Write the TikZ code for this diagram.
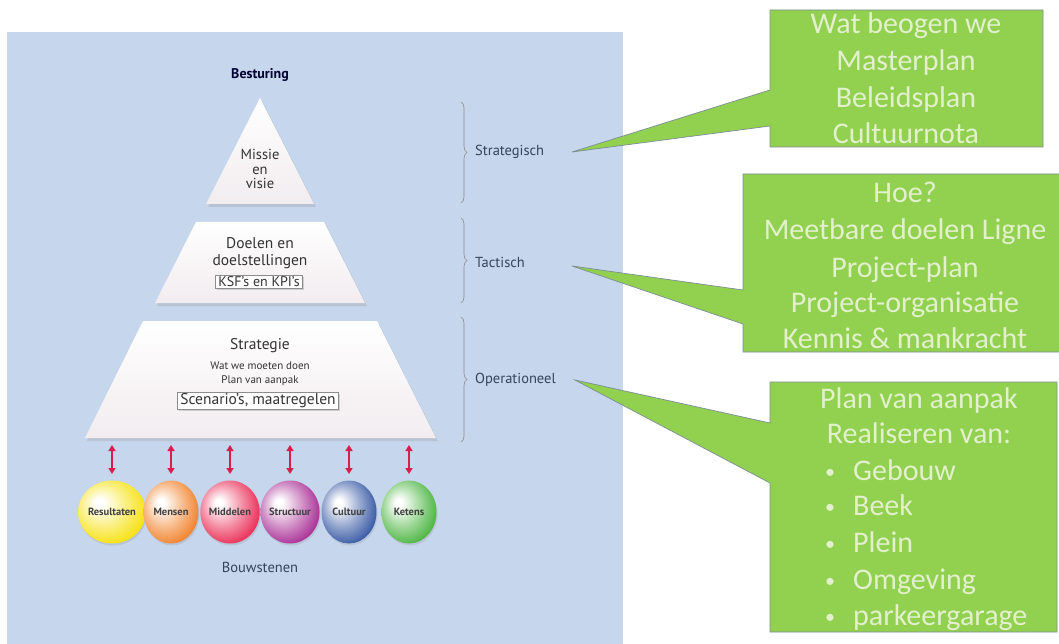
\documentclass[tikz,border=0pt]{standalone}
\usepackage{fontspec}
\setmainfont{PT Sans}
\newfontfamily\calfont{Carlito}
\usetikzlibrary{arrows.meta,decorations.pathreplacing,shapes.geometric,shadows}
\definecolor{panel}{HTML}{C6D6EC}
\definecolor{gfill}{HTML}{92D050}
\definecolor{gtext}{HTML}{E2F0CC}
\definecolor{gline}{HTML}{7D8E96}
\definecolor{ptext}{HTML}{333333}
\definecolor{ltext}{HTML}{36435E}
\definecolor{arr}{HTML}{D81E4E}
\definecolor{pyrbot}{HTML}{F2ECEF}
\definecolor{bcol}{HTML}{F2E012}
\pgfdeclareradialshading[bcol]{egg}{\pgfpoint{-10bp}{8bp}}{color(0bp)=(white); color(3bp)=(white); color(17bp)=(bcol!50!white); color(32bp)=(bcol); color(50bp)=(bcol!82!black)}
\tikzset{
  pyr/.style={top color=white, bottom color=pyrbot, draw=none},
  pyrshadow/.style={fill=black!45, opacity=0.25},
  ptxt/.style={text=ptext, align=center, inner sep=0pt},
  psmall/.style={text=ptext, font=\fontsize{11}{12}\selectfont, inner sep=0pt},
  tagbox/.style={draw=black!45, fill=white, line width=0.6pt, inner xsep=3pt, inner ysep=1.5pt, text=ptext, drop shadow={opacity=0.3, shadow xshift=1.2pt, shadow yshift=-1.2pt}},
  lvl/.style={text=ltext, font=\fontsize{14.5}{16}\selectfont, anchor=west, inner sep=0pt},
  brc/.style={draw=black!45, line width=0.6pt, decorate, decoration={brace, amplitude=6pt}},
  callout/.style={fill=gfill, draw=gline, line width=0.7pt, line join=miter},
  gt/.style={text=gtext, font=\calfont\fontsize{30}{36}\selectfont, anchor=base, inner sep=0pt},
  egg/.style={ellipse, minimum width=55pt, minimum height=63pt, inner sep=0pt, shading=egg, /utils/exec={\colorlet{bcol}{#1}}, font=\bfseries\fontsize{10.5}{11}\selectfont, text=black!75, drop shadow={opacity=0.2, shadow xshift=1pt, shadow yshift=-2pt}},
  dbl/.style={arr, line width=1.8pt, {Triangle[length=6pt,width=7pt]}-{Triangle[length=6pt,width=7pt]}}
}
\begin{document}
\begin{tikzpicture}[x=1pt,y=-1pt]
\useasboundingbox (0,0) rectangle (1059,644);
\clip (0,0) rectangle (1059,644);
\fill[white] (0,0) rectangle (1059,644);
\fill[panel] (7,32) rectangle (623,644);

% title
\node[text=black!80!blue, font=\bfseries\fontsize{14}{16}\selectfont, inner sep=0pt] (best) at (260,75) {Besturing};

% pyramid shadows
\begin{scope}[shift={(2,3)}]
\fill[pyrshadow] (260,98) -- (314,204) -- (206,204) -- cycle;
\fill[pyrshadow] (196,222) -- (324,222) -- (365,303) -- (155,303) -- cycle;
\fill[pyrshadow] (143,321) -- (377,321) -- (436,438) -- (85,438) -- cycle;
\end{scope}
% pyramid
\shade[pyr] (260,98) -- (314,204) -- (206,204) -- cycle;
\shade[pyr] (196,222) -- (324,222) -- (365,303) -- (155,303) -- cycle;
\shade[pyr] (143,321) -- (377,321) -- (436,438) -- (85,438) -- cycle;

\node[ptxt, font=\fontsize{14.5}{14.5}\selectfont] (missie) at (260,169) {Missie\\en\\visie};
\node[ptxt, font=\fontsize{15.5}{16.5}\selectfont] (doelen) at (260,253) {Doelen en\\doelstellingen};
\node[tagbox, font=\fontsize{14}{15}\selectfont] (ksf) at (259,282) {KSF's en KPI's};
\node[ptxt, font=\fontsize{15.5}{16}\selectfont] (strat) at (260,346) {Strategie};
\node[psmall] (wat) at (260,366) {Wat we moeten doen};
\node[psmall] (plan) at (260,381) {Plan van aanpak};
\node[tagbox, font=\fontsize{15.5}{16}\selectfont] (scen) at (258,401) {Scenario's, maatregelen};

% braces and levels
\coordinate (b1t) at (461,102); \coordinate (b1b) at (461,203);
\coordinate (b2t) at (461,218); \coordinate (b2b) at (461,303);
\coordinate (b3t) at (461,317); \coordinate (b3b) at (461,442);
\draw[brc] (b1t) -- (b1b);
\draw[brc] (b2t) -- (b2b);
\draw[brc] (b3t) -- (b3b);
\node[lvl] (lv1) at (475,152) {Strategisch};
\node[lvl] (lv2) at (475,262) {Tactisch};
\node[lvl] (lv3) at (475,380) {Operationeel};

% building blocks
\foreach \i/\x/\c/\t in {1/112/F5DF00/Resultaten, 2/171/F07A1E/Mensen, 3/230/E8204C/Middelen, 4/290/A3228E/Structuur, 5/349/2A4E9E/Cultuur, 6/409/40B035/Ketens}{
  \definecolor{tmpc\i}{HTML}{\c}
  \node[egg=tmpc\i] (r\i) at (\x,512) {\t};
  \coordinate (at\i) at (\x,445);
  \coordinate (ab\i) at (\x,474);
  \draw[dbl] (at\i) -- (ab\i);
}
\node[text=ltext, font=\fontsize{14.5}{16}\selectfont, inner sep=0pt] (bouw) at (260,567) {Bouwstenen};

% callouts
\coordinate (tip1) at (572,152);
\coordinate (tip2) at (572,266);
\coordinate (tip3) at (575,380);
\draw[callout] (770,10) -- (1043,10) -- (1043,147) -- (770,147) -- (770,126) -- (tip1) -- (770,90) -- cycle;
\draw[callout] (743,174) -- (1070,174) -- (1070,352) -- (743,352) -- (743,324) -- (tip2) -- (743,290) -- cycle;
\draw[callout] (770,382) -- (1057,382) -- (1057,632) -- (770,632) -- (770,483) -- (tip3) -- (770,423) -- cycle;

\foreach \n/\y/\t in {1/34/Wat beogen we, 2/71/Masterplan, 3/108/Beleidsplan, 4/144/Cultuurnota}{
  \node[gt] (ga\n) at (906,\y) {\t};
}
\foreach \n/\y/\t in {1/203/Hoe?, 2/240/Meetbare doelen Ligne, 3/277/Project-plan, 4/312/Project-organisatie, 5/348/Kennis \& mankracht}{
  \node[gt] (gb\n) at (905,\y) {\t};
}
\node[gt] (gc1) at (919,408) {Plan van aanpak};
\node[gt] (gc2) at (919,443) {Realiseren van:};
\foreach \n/\y/\t in {3/480/Gebouw, 4/515/Beek, 5/552/Plein, 6/589/Omgeving, 7/625/parkeergarage}{
  \node[gt, anchor=base west] (gc\n) at (853,\y) {\t};
  \node[gt, anchor=base, font=\calfont\fontsize{20}{20}\selectfont] (gd\n) at (830,\y-2) {\textbullet};
}
\end{tikzpicture}
\end{document}
